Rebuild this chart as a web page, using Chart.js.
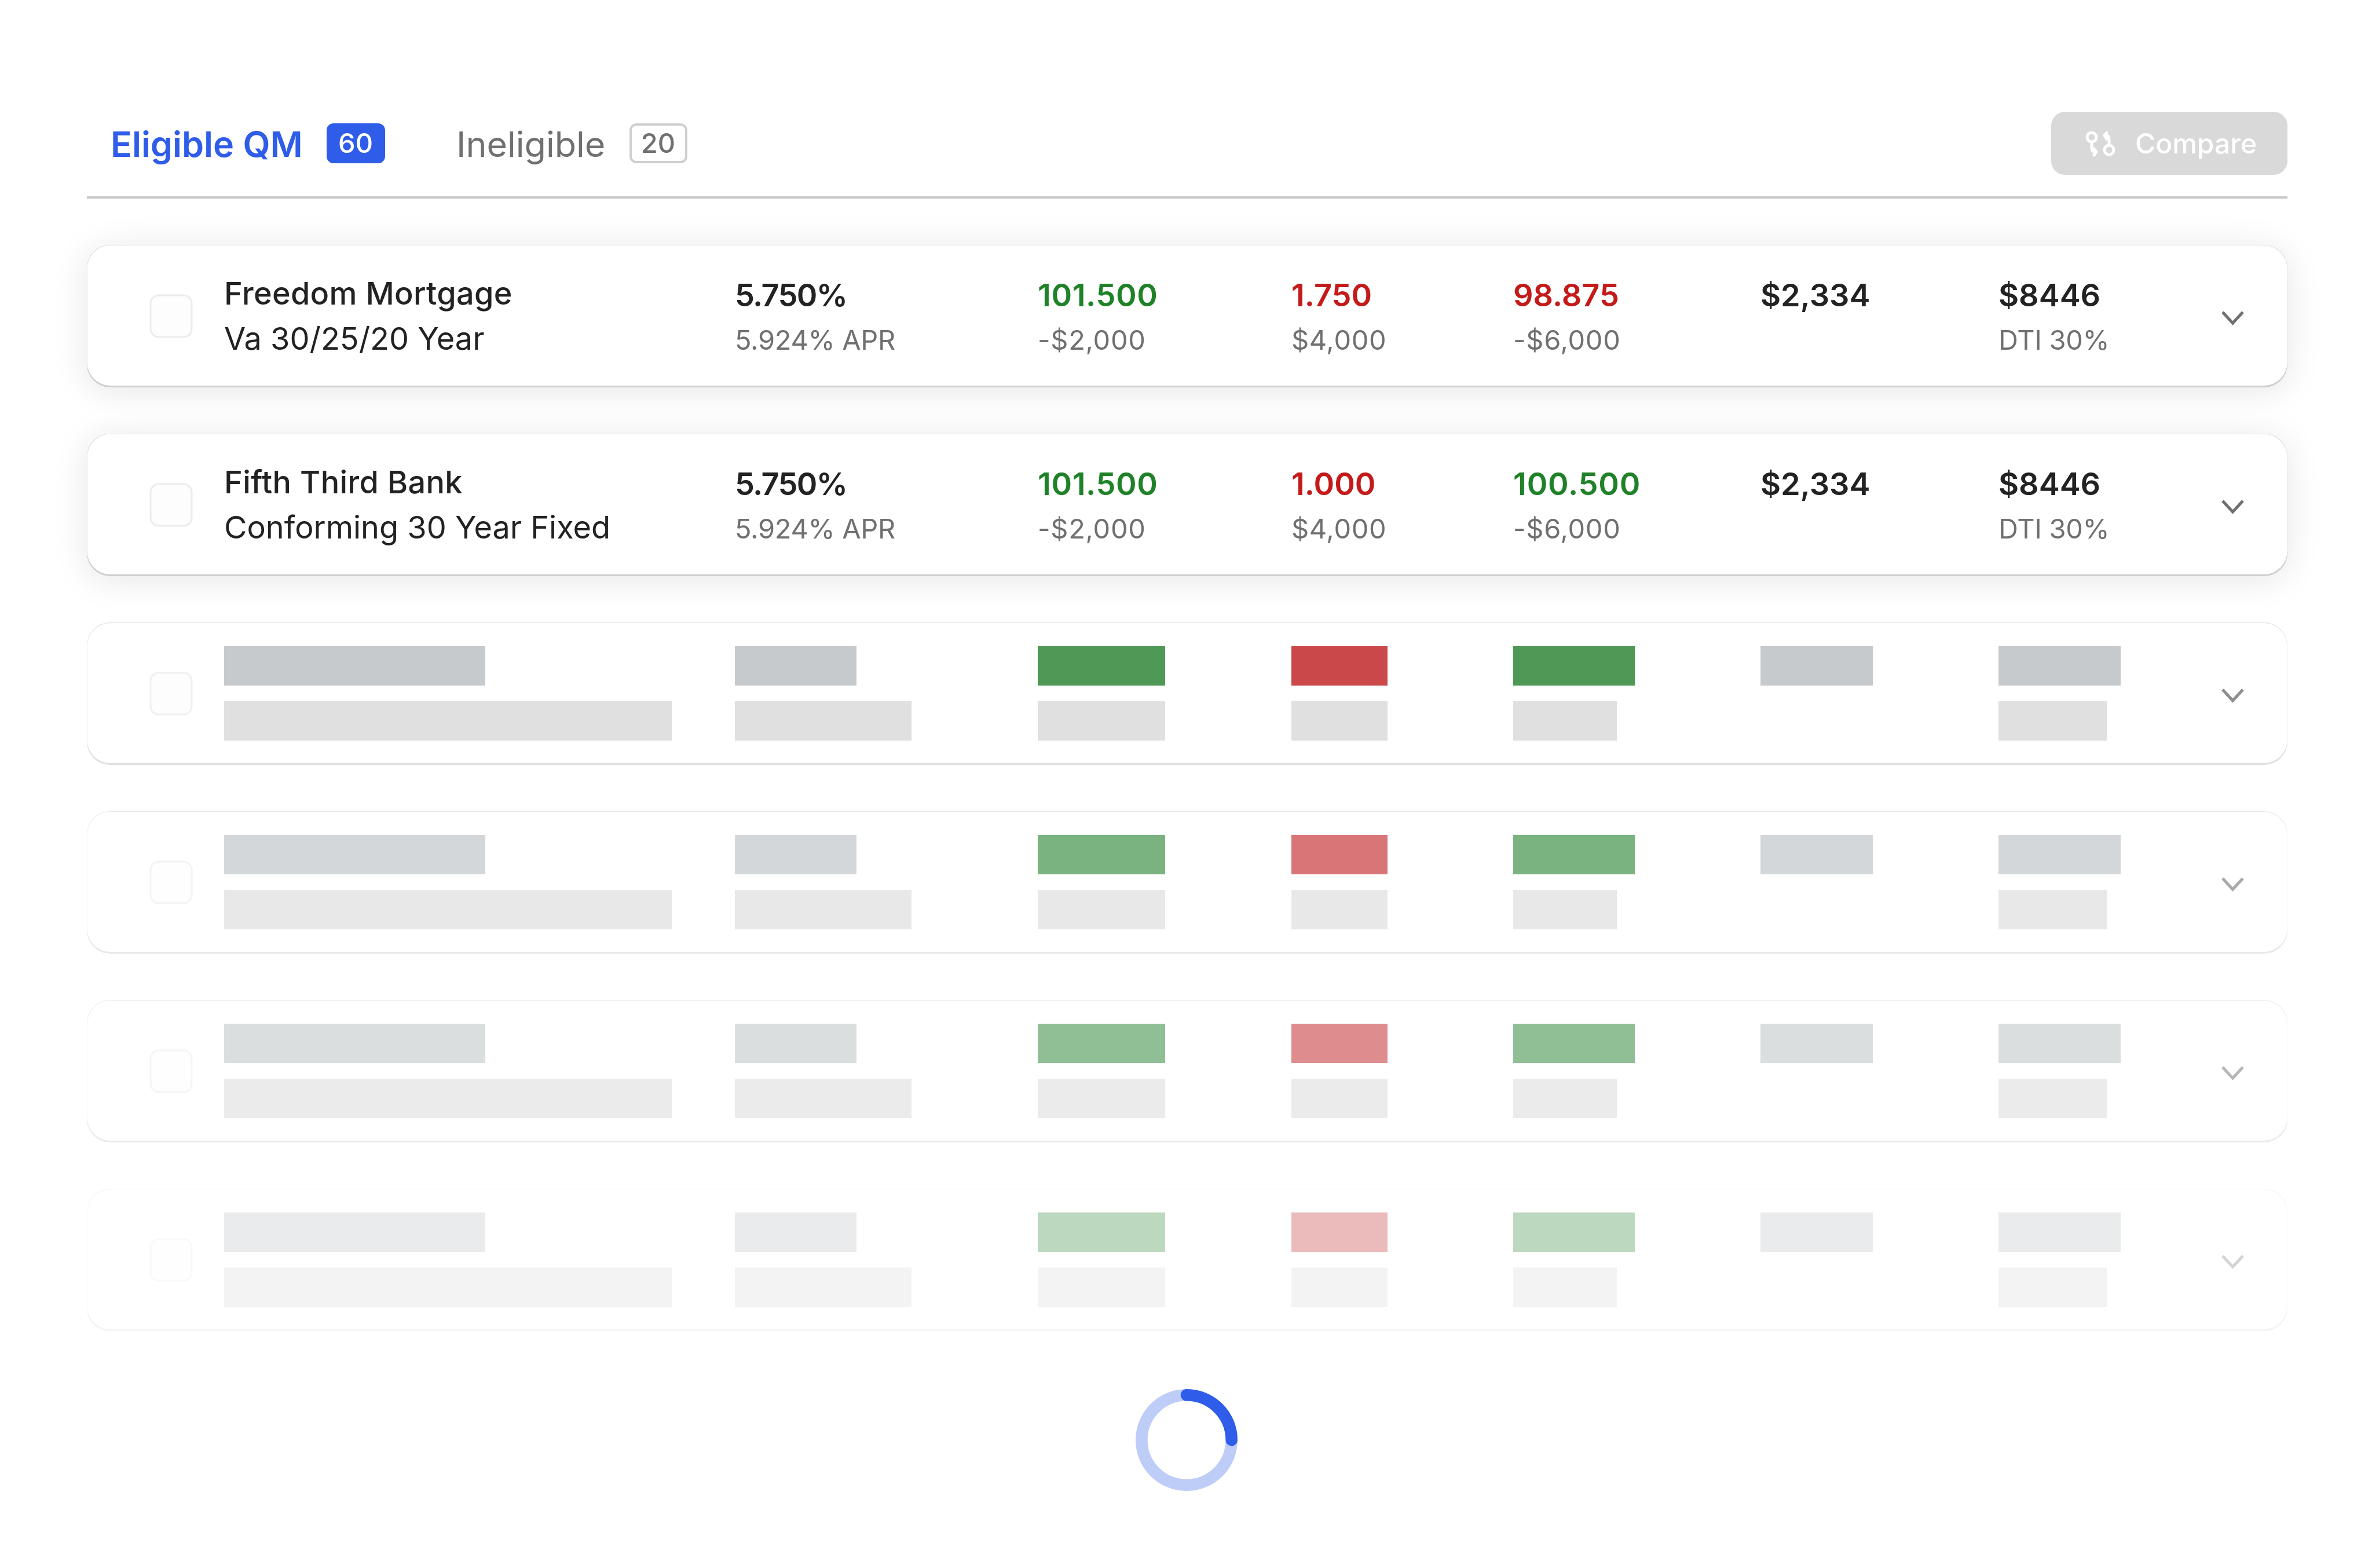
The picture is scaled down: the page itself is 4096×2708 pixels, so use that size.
<!DOCTYPE html>
<html>
<head>
<meta charset="utf-8">
<title>Eligible QM</title>
<script src="https://cdn.jsdelivr.net/npm/chart.js"></script>
<style>
  html, body { margin: 0; padding: 0; background: #fff; }
  #board { position: absolute; left: 0; top: 0; }
  #spinner { position: absolute; left: 1939px; top: 2377px; }
</style>
</head>
<body>
<canvas id="board" width="4096" height="2708"></canvas>
<canvas id="spinner" width="220" height="220"></canvas>
<script>
// ############################################ Data #############################################
const tabLabels = ['Eligible QM', 'Ineligible'];
const tabCounts = ['60', '20'];
const buttonLabel = 'Compare';

const lenders = ['Freedom Mortgage', 'Fifth Third Bank'];
const products = ['Va 30/25/20 Year', 'Conforming 30 Year Fixed'];
const rates = ['5.750%', '5.750%'];
const aprs = ['5.924% APR', '5.924% APR'];
const priceA = ['101.500', '101.500'];
const priceACost = ['-$2,000', '-$2,000'];
const priceB = ['1.750', '1.000'];
const priceBCost = ['$4,000', '$4,000'];
const priceC = ['98.875', '100.500'];
const priceCCost = ['-$6,000', '-$6,000'];
const payments = ['$2,334', '$2,334'];
const totals = ['$8446', '$8446'];
const dti = ['DTI 30%', 'DTI 30%'];

// placeholder bar lengths per column, upper and lower line
const upperLengths = [451, 210, 220, 166, 210, 194, 211];
const lowerLengths = [773, 305, 220, 166, 179, 0, 187];

// loader: share of the ring that is highlighted, in percent
const spinnerValues = [29.2, 70.8];

// ############################################ Layout #############################################
const COL_X = [387, 1269, 1792, 2230, 2613, 3040, 3451];
const CARD_TOP = [423, 749, 1075, 1401, 1727, 2053];
const ROW_ALPHA = [1, 1, 0.8, 0.6, 0.5, 0.3];
const CARD_LEFT = 150, CARD_RIGHT = 3950, CARD_H = 243;

const BLUE = '#2f5ce8', DARK = '#222222', GREY = '#707070';
const GREEN = '#1f8228', RED = '#c41a1a';
const UPPER_RGB = ['184,189,192', '184,189,192', '34,128,43', '190,26,29', '34,128,43', '184,189,192', '184,189,192'];
const LOWER_RGB = '216,216,216';

function buildBars() {
    const data = [], colors = [];
    CARD_TOP.forEach((top, r) => {
        if (r < 2) return; // first two cards are filled with text
        COL_X.forEach((x0, c) => {
            data.push({ x: [x0, x0 + upperLengths[c]], y: top + 75 });
            colors.push('rgba(' + UPPER_RGB[c] + ',' + ROW_ALPHA[r] + ')');
            if (lowerLengths[c] > 0) {
                data.push({ x: [x0, x0 + lowerLengths[c]], y: top + 170 });
                colors.push('rgba(' + LOWER_RGB + ',' + ROW_ALPHA[r] + ')');
            }
        });
    });
    return { data, colors };
}

function rr(ctx, x, y, w, h, r) {
    ctx.beginPath();
    ctx.roundRect(x, y, w, h, r);
}

function put(ctx, str, x, y, font, color, spacing) {
    ctx.font = font;
    ctx.fillStyle = color;
    ctx.letterSpacing = spacing || '0px';
    ctx.fillText(str, x, y);
}

// ############################################ Plugins #############################################
const cardsPlugin = {
    id: 'cards',
    beforeDatasetsDraw(chart) {
        const { ctx, scales: { x, y } } = chart;
        const left = x.getPixelForValue(CARD_LEFT);
        const width = x.getPixelForValue(CARD_RIGHT) - left;
        ctx.save();
        // tab divider
        ctx.fillStyle = '#c9c9c9';
        ctx.fillRect(left, y.getPixelForValue(339), width, 4);
        // compare button
        ctx.fillStyle = '#d9d9d9';
        rr(ctx, x.getPixelForValue(3542), y.getPixelForValue(193), 408, 109, 24);
        ctx.fill();

        CARD_TOP.forEach((t, r) => {
            const top = y.getPixelForValue(t);
            const a = ROW_ALPHA[r];
            ctx.save();
            if (r < 2) {
                ctx.shadowColor = 'rgba(0,0,0,0.10)';
                ctx.shadowBlur = 60;
                ctx.shadowOffsetY = 6;
            }
            // thin top hairline, heavier bottom edge, almost nothing on the sides
            ctx.fillStyle = r < 2 ? '#cfcfcf' : 'rgba(216,216,216,' + a + ')';
            rr(ctx, left, top, width, CARD_H + 3, 40);
            ctx.fill();
            ctx.restore();
            ctx.fillStyle = '#ffffff';
            rr(ctx, left + 0.5, top + (r < 2 ? 0.5 : 1), width - 1, CARD_H - (r < 2 ? 0.5 : 1), 40);
            ctx.fill();

            // checkbox
            ctx.globalAlpha = a;
            ctx.fillStyle = '#fdfdfd';
            ctx.strokeStyle = '#ececec';
            ctx.lineWidth = 3;
            rr(ctx, x.getPixelForValue(260), top + 87, 71, 72, 14);
            ctx.fill();
            ctx.stroke();
            // chevron
            ctx.strokeStyle = GREY;
            ctx.lineWidth = 5;
            ctx.beginPath();
            ctx.moveTo(x.getPixelForValue(3838), top + 116);
            ctx.lineTo(x.getPixelForValue(3855.5), top + 135);
            ctx.lineTo(x.getPixelForValue(3873), top + 116);
            ctx.stroke();
            ctx.globalAlpha = 1;
        });
        ctx.restore();
    },
    afterDatasetsDraw(chart) {
        const { ctx } = chart;
        ctx.save();
        ctx.textBaseline = 'alphabetic';
        ctx.textAlign = 'left';

        // tabs
        put(ctx, tabLabels[0], 191, 271, '600 61px Inter', BLUE);
        put(ctx, tabLabels[1], 788, 271, '400 61px Inter', GREY);
        ctx.fillStyle = BLUE;
        rr(ctx, 564, 213, 101, 69, 12);
        ctx.fill();
        ctx.fillStyle = '#ffffff';
        ctx.strokeStyle = '#cfcfcf';
        ctx.lineWidth = 4;
        rr(ctx, 1089, 215, 96, 65, 10);
        ctx.fill();
        ctx.stroke();
        ctx.textAlign = 'center';
        put(ctx, tabCounts[0], 614, 264, '500 47px Inter', '#ffffff');
        put(ctx, tabCounts[1], 1136.5, 264, '500 47px Inter', GREY);
        ctx.textAlign = 'left';

        // compare icon + label
        ctx.strokeStyle = '#ffffff';
        ctx.lineWidth = 5;
        ctx.lineCap = 'round';
        ctx.lineJoin = 'round';
        ctx.beginPath();
        ctx.arc(3612, 237, 8, 0, Math.PI * 2);
        ctx.moveTo(3650, 259);
        ctx.arc(3642, 259, 8, 0, Math.PI * 2);
        ctx.moveTo(3612, 246);
        ctx.lineTo(3612, 257);
        ctx.quadraticCurveTo(3612, 262, 3618, 262);
        ctx.moveTo(3616, 257);
        ctx.lineTo(3620, 262);
        ctx.lineTo(3616, 268);
        ctx.moveTo(3642, 250);
        ctx.lineTo(3642, 240);
        ctx.quadraticCurveTo(3642, 234, 3636, 234);
        ctx.moveTo(3638, 229);
        ctx.lineTo(3634, 234);
        ctx.lineTo(3638, 240);
        ctx.stroke();
        put(ctx, buttonLabel, 3687, 265, '500 48px Inter', '#ffffff');

        // first two cards
        lenders.forEach((name, i) => {
            const top = CARD_TOP[i];
            const b1 = top + 106, b2 = top + 181;
            const big = '600 54px Inter', small = '400 47px Inter';
            put(ctx, name, 387, top + 103, '500 54px Inter', DARK, '0.3px');
            put(ctx, products[i], 387, top + 180.5, '400 54px Inter', DARK);
            put(ctx, rates[i], COL_X[1], b1, big, DARK, '-1.6px');
            put(ctx, aprs[i], COL_X[1], b2, small, GREY, '-0.3px');
            put(ctx, priceA[i], COL_X[2], b1, big, GREEN, '0.6px');
            put(ctx, priceACost[i], COL_X[2], b2, small, GREY, '0.7px');
            put(ctx, priceB[i], COL_X[3], b1, big, RED);
            put(ctx, priceBCost[i], COL_X[3], b2, small, GREY, '0.7px');
            put(ctx, priceC[i], COL_X[4], b1, big, parseFloat(priceC[i]) < 100 ? RED : GREEN, i ? '0.8px' : '0px');
            put(ctx, priceCCost[i], COL_X[4], b2, small, GREY, '0.7px');
            put(ctx, payments[i], COL_X[5], b1, big, DARK);
            put(ctx, totals[i], COL_X[6], b1, big, DARK);
            put(ctx, dti[i], COL_X[6], b2, small, GREY, '-0.3px');
        });
        ctx.restore();
    }
};

const trackPlugin = {
    id: 'track',
    beforeDatasetsDraw(chart) {
        const arc = chart.getDatasetMeta(0).data[0];
        const { ctx } = chart;
        ctx.save();
        ctx.strokeStyle = '#bdcdf7';
        ctx.lineWidth = arc.outerRadius - arc.innerRadius;
        ctx.beginPath();
        ctx.arc(arc.x, arc.y, (arc.outerRadius + arc.innerRadius) / 2, 0, Math.PI * 2);
        ctx.stroke();
        ctx.restore();
    }
};

// ############################################ Charts #############################################
const bars = buildBars();

new Chart(document.getElementById('board').getContext('2d'), {
    type: 'bar',
    data: {
        datasets: [{
            data: bars.data,
            backgroundColor: bars.colors,
            borderWidth: 0,
            barThickness: 68,
            inflateAmount: 0
        }]
    },
    options: {
        indexAxis: 'y',
        responsive: false,
        animation: false,
        layout: { padding: 0 },
        scales: {
            x: { type: 'linear', min: 0, max: 4096, display: false },
            y: { type: 'linear', min: 0, max: 2708, reverse: true, offset: false, display: false }
        },
        plugins: { legend: { display: false }, tooltip: { enabled: false } }
    },
    plugins: [cardsPlugin]
});

new Chart(document.getElementById('spinner').getContext('2d'), {
    type: 'doughnut',
    data: {
        labels: ['done', 'rest'],
        datasets: [{
            data: spinnerValues,
            backgroundColor: [BLUE, 'rgba(0,0,0,0)'],
            borderWidth: 0,
            borderRadius: [10.3, 0]
        }]
    },
    options: {
        responsive: false,
        animation: false,
        radius: 88,
        cutout: '76.6%',
        rotation: -7.6,
        plugins: { legend: { display: false }, tooltip: { enabled: false } }
    },
    plugins: [trackPlugin]
});
</script>
</body>
</html>
